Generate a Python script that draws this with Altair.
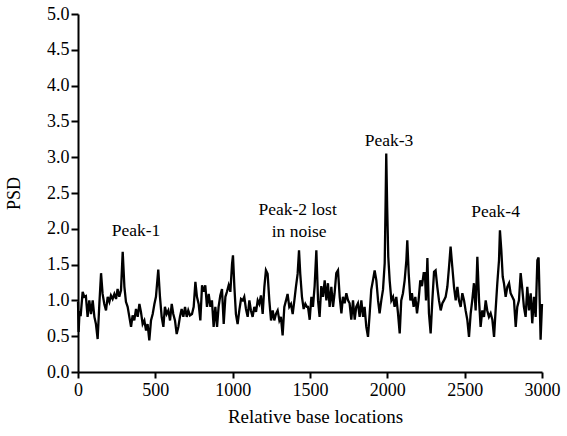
import altair as alt
import pandas as pd

# Relative base locations
loc = [0, 4, 10, 17, 30, 41, 51, 62, 73, 84, 95, 106, 116, 127, 138, 149, 159, 170, 181, 192,
       203, 213, 224, 235, 246, 256, 267, 278, 289, 300, 310, 321, 332, 343, 353, 364, 375, 386,
       397, 407, 418, 429, 440, 450, 461, 472, 483, 494, 504, 519, 530, 541, 552, 562, 573, 584,
       595, 606, 616, 627, 638, 649, 659, 670, 681, 692, 703, 713, 724,
       737, 748, 759, 769, 780, 791, 802, 812, 823, 834, 845, 856, 866, 877, 888, 899, 909, 920,
       931, 942, 953, 963, 974, 985, 996, 1002, 1011, 1021, 1032, 1043, 1054, 1065, 1075, 1086,
       1097, 1108, 1118, 1129, 1140, 1151, 1162, 1172, 1183, 1194, 1205, 1215, 1226, 1237, 1248,
       1259, 1269, 1280, 1291, 1302, 1312, 1323, 1334, 1345, 1355, 1366, 1377, 1388, 1399, 1409,
       1420, 1429, 1437, 1448, 1459, 1470, 1480,
       1487, 1498, 1509, 1519, 1530, 1541, 1552, 1562, 1573, 1584, 1595, 1606, 1616, 1627, 1638,
       1649, 1659, 1670, 1681, 1692, 1703, 1713, 1724, 1735, 1746, 1756, 1767, 1778, 1789, 1799,
       1810, 1821, 1832, 1843, 1853, 1864, 1875, 1886, 1896, 1907, 1918, 1929, 1940, 1950, 1961,
       1972, 1983, 1989, 1993, 1999, 2006, 2015, 2026, 2037, 2047, 2058, 2069, 2080, 2090, 2101,
       2112, 2123, 2129, 2138, 2149, 2159, 2170, 2181, 2192, 2202, 2213, 2224, 2235,
       2243, 2250, 2259, 2269, 2280, 2291, 2302, 2312, 2323, 2334, 2345, 2356, 2366, 2377, 2388,
       2399, 2409, 2420, 2431, 2442, 2453, 2463, 2474, 2485, 2496, 2506, 2517, 2528, 2539, 2549,
       2560, 2571, 2582, 2593, 2603, 2614, 2625, 2636, 2646, 2657, 2668, 2679, 2690, 2700, 2711,
       2722, 2728, 2737, 2746, 2754, 2765, 2776, 2787, 2797, 2808, 2819, 2830, 2840, 2851, 2862,
       2873, 2883, 2894, 2905, 2916, 2927, 2937, 2948, 2959, 2970, 2978, 2985, 2991, 3000]

psd = [0.98, 0.56, 0.85, 0.78, 1.12, 1.05, 1.06, 0.77, 1.0, 0.81, 1.0, 0.77, 0.67, 0.46, 0.95, 1.38, 1.09, 0.95, 0.86, 1.05,
       0.98, 1.07, 1.02, 1.09, 1.02, 1.16, 1.05, 1.14, 1.68, 1.19, 0.98, 0.91, 0.77, 0.63, 0.79, 0.72, 0.88, 0.77,
       0.95, 0.84, 0.67, 0.72, 0.58, 0.67, 0.44, 0.72, 0.81, 0.95, 1.05, 1.43, 1.05, 0.77, 0.63, 0.91, 0.81, 0.86,
       0.72, 0.95, 0.81, 0.72, 0.53, 0.63, 0.77, 0.88, 0.77, 0.91, 0.77, 0.86, 0.79,
       0.81, 0.91, 1.26, 1.05, 0.95, 0.72, 1.21, 1.12, 1.21, 0.91, 1.09, 0.91, 1.0, 0.63, 0.91, 0.63, 0.91, 1.07,
       1.16, 0.67, 1.05, 1.12, 1.21, 1.12, 1.51, 1.63, 1.19, 0.81, 0.67, 0.86, 1.02, 1.0, 1.05, 0.88,
       0.77, 1.0, 0.86, 0.77, 0.91, 0.84, 1.0, 0.95, 1.07, 0.81, 1.19, 1.42, 1.37, 1.0, 0.72,
       0.86, 0.72, 0.81, 0.86, 0.72, 0.77, 0.51, 0.91, 1.0, 1.09, 0.91, 0.95, 0.81, 1.0, 1.19,
       1.37, 1.70, 1.37, 1.05, 0.88, 0.95, 0.91,
       0.91, 0.73, 1.05, 0.91, 1.2, 1.70, 1.0, 0.77, 1.2, 1.05, 1.28, 1.0, 1.24, 0.91, 1.19,
       0.91, 1.1, 1.38, 1.42, 1.05, 0.82, 1.05, 0.96, 1.1, 1.0, 0.96, 0.73, 1.0, 0.73, 0.91,
       0.96, 0.77, 1.0, 0.77, 0.91, 0.63, 0.49, 0.82, 1.15, 1.28, 1.42, 1.28, 1.0, 0.82, 1.0,
       1.15, 1.52, 2.4, 3.05, 2.3, 1.61, 1.28, 1.0, 1.05, 0.91, 1.05, 0.82, 0.54, 1.0, 1.1,
       1.28, 1.56, 1.84, 1.38, 1.0, 1.1, 0.91, 1.05, 0.82, 1.0, 1.28, 1.2, 1.38,
       1.38, 1.0, 1.59, 0.82, 0.54, 1.0, 1.4, 1.42, 1.19, 1.0, 0.86, 0.96, 1.0, 1.05, 1.19,
       1.47, 1.75, 1.47, 1.19, 1.0, 1.19, 1.0, 0.91, 1.1, 1.0, 0.86, 0.73, 0.49, 0.82, 1.0,
       1.24, 0.86, 1.61, 1.0, 0.63, 0.86, 0.77, 1.0, 0.86, 0.77, 0.82, 0.73, 0.49, 0.86, 1.24,
       1.56, 1.98, 1.7, 1.33, 1.24, 1.05, 1.19, 1.24, 1.1, 1.05, 1.0, 0.63, 0.91, 1.0, 1.38,
       1.15, 0.91, 0.77, 1.19, 0.86, 1.1, 0.68, 1.05, 0.77, 1.56, 1.6, 1.0, 0.45, 0.95]

# Tick values
x_ticks = [0, 500, 1000, 1500, 2000, 2500, 3000]
y_ticks = [0, 0.5, 1, 1.5, 2, 2.5, 3, 3.5, 4, 4.5, 5]

# Annotations
ann_text = ["Peak-1", "Peak-2 lost", "in noise", "Peak-3", "Peak-4"]
ann_x = [375, 1420, 1430, 2011, 2700]
ann_y = [1.9, 2.19, 1.885, 3.15, 2.17]

FONT = "Liberation Serif, Times New Roman, Times, DejaVu Serif, serif"

df = pd.DataFrame({"loc": loc, "psd": psd})
ann = pd.DataFrame({"text": ann_text, "x": ann_x, "y": ann_y})

xs = alt.Scale(domain=[0, 3000], nice=False)
ys = alt.Scale(domain=[0, 5], nice=False)

x_axis = alt.Axis(title="Relative base locations", values=x_ticks, format="d",
                  titleX=237, titleY=35, titleBaseline="top", tickSize=6, labelPadding=3,
                  labelFontSize=18, titleFontSize=19)
y_axis = alt.Axis(title="PSD", values=y_ticks, format=".1f",
                  titleX=-55, titleY=179, tickSize=7, labelPadding=2,
                  labelFontSize=18, titleFontSize=18)

line = alt.Chart(df).mark_line(color="black", strokeWidth=2.3, strokeJoin="miter").encode(
    x=alt.X("loc:Q", scale=xs, axis=x_axis, title="Relative base locations"),
    y=alt.Y("psd:Q", scale=ys, axis=y_axis, title="PSD"),
)

labels = alt.Chart(ann).mark_text(font=FONT, fontSize=17.5, color="black", align="center",
                                   baseline="alphabetic").encode(
    x=alt.X("x:Q", scale=xs, axis=x_axis, title="Relative base locations"),
    y=alt.Y("y:Q", scale=ys, axis=y_axis, title="PSD"),
    text="text:N")

chart = alt.layer(line, labels).properties(
    width=464, height=358,
    autosize=alt.AutoSizeParams(type="none"),
    padding={"left": 78, "top": 14, "right": 25, "bottom": 64},
    background="white",
).configure_view(stroke=None).configure_axis(
    grid=False, domainColor="black", domainWidth=2, tickColor="black", tickWidth=2,
    labelFont=FONT, labelColor="black", labelOverlap=False, labelFlush=False,
    titleFont=FONT, titleFontWeight="normal", titleColor="black",
)

chart.save("out.html", embed_options={"renderer": "svg", "actions": False})
